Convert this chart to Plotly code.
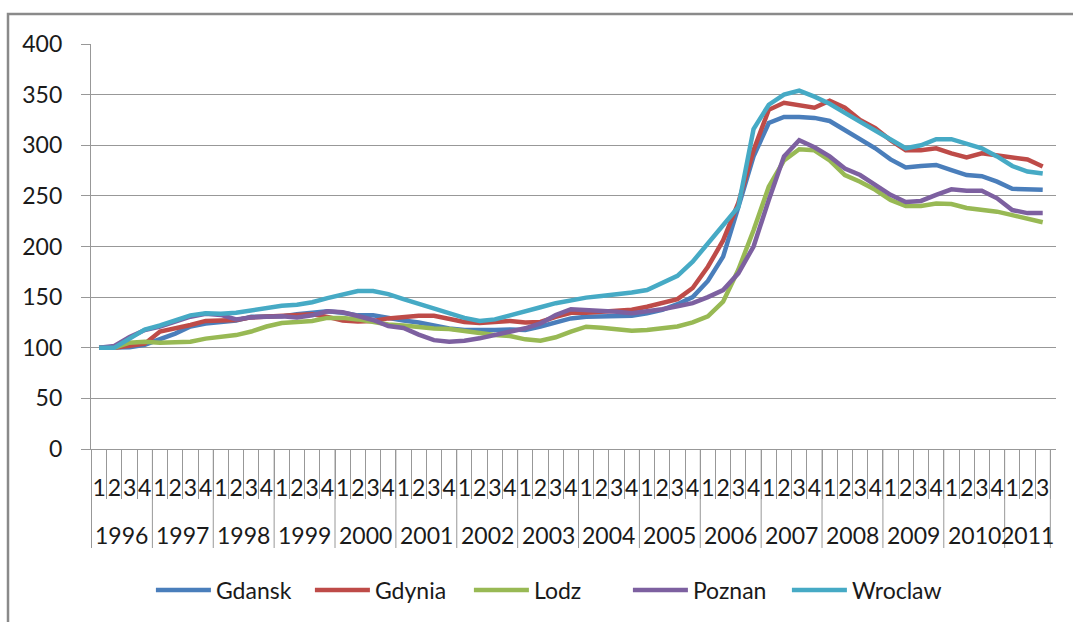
import plotly.graph_objects as go

# Quarterly house-price index (1996 Q1 = 100), 1996 Q1 .. 2011 Q3
years = [str(y) for y in range(1996, 2012)]
quarters = ["1", "2", "3", "4"]
n_points = 63

gdansk = [100, 100, 100.5, 103, 108, 114, 121, 124, 125.5, 127, 130.5, 131, 131, 133, 134, 136,
          134.5, 132, 132, 129, 127, 125, 121.5, 119, 117.5, 117, 117.5, 118, 117.5, 121, 125.5, 129,
          130.5, 131, 131.5, 131.5, 134, 137.5, 143, 150, 166, 190, 239, 289, 322, 328, 328, 327,
          324, 315, 307, 297, 286, 278, 279.5, 280.5, 275.5, 270.5, 269.5, 264, 257, 256, 256]
gdynia = [100, 100, 102, 104, 116, 119, 122.5, 126.5, 126.5, 127.5, 130, 131, 132, 132.5, 133, 130.5,
          127, 126, 126.5, 129, 130.5, 131.5, 131.5, 128, 125.5, 124.5, 125.5, 126.5, 125, 125.5, 130.5, 134.5,
          134.5, 135.5, 135.5, 137.5, 140.5, 144, 148, 159, 180, 206, 243, 295, 335, 342, 340, 337,
          344, 337, 325, 317, 305, 295, 295, 297, 292, 288, 292, 290, 289, 286, 279]
lodz = [100, 100, 105, 106, 105, 105, 106, 109, 111, 112.5, 116, 121, 124.5, 125.5, 126.5, 129.5,
        129.5, 128, 125, 123, 122, 120, 119, 118.5, 116.5, 114, 112.6, 111.6, 108.3, 107, 110.3, 116,
        120.8, 119.8, 118.2, 116.8, 117.5, 119.2, 121, 125, 131, 145.5, 177, 216, 259, 285, 296, 295,
        285, 270.6, 264, 256, 246, 240, 240, 242.5, 242, 238, 236.7, 234.4, 231, 228, 224]
poznan = [100, 101.7, 110.6, 117.5, 121, 125.7, 130.7, 133.5, 132.4, 128, 130, 130.7, 131, 130, 132, 136,
          135, 131.4, 127.4, 121.5, 119.5, 113, 107.5, 106, 107, 109.3, 112.6, 115.9, 119.2, 124, 132.3, 138,
          137.3, 135.6, 135.6, 134, 135.6, 138, 141, 144, 150, 157, 173.5, 200, 246, 289, 305, 298,
          289, 277, 270.6, 261, 251, 244, 245, 251, 256.5, 255, 255, 247.6, 236, 233, 233]
wroclaw = [100, 100, 109, 118, 122, 127, 132, 134, 133.5, 134.5, 137, 140, 141.5, 142.5, 145, 149,
           153, 156, 156, 153, 148, 143.5, 139, 134.5, 129.5, 126.5, 128, 132, 136.5, 140, 144, 147,
           149.5, 151, 152.5, 154.5, 157, 163.5, 171, 185, 203, 221, 239, 316, 340, 350, 354, 348,
           341, 332, 323, 315, 305, 297, 300, 306, 306, 302, 297, 289, 279.5, 274, 272]

series = {
    "Gdansk": (gdansk, "#4A7EBB"),
    "Gdynia": (gdynia, "#BE4B48"),
    "Lodz": (lodz, "#98B954"),
    "Poznan": (poznan, "#7D60A0"),
    "Wroclaw": (wroclaw, "#46AAC5"),
}

# one category per quarter; tick text shows the quarter number
periods = []
period_quarter = []
year_slots = []  # (year label, first index, number of quarters)
for y in years:
    start = len(periods)
    for q in quarters:
        if len(periods) < n_points:
            periods.append(f"{y}-{q}")
            period_quarter.append(q)
    year_slots.append((y, start, len(periods) - start))

FONT = "Lato"
FS = 23
TEXT = "#1a1a1a"
GRID = "#989898"
PLOT_H = 622 - 44 - 173

fig = go.Figure()
for name, (vals, color) in series.items():
    fig.add_trace(go.Scatter(
        x=periods, y=vals, name=name, mode="lines",
        line=dict(color=color, width=4.5),
    ))

# year row under the quarter row: group labels and group dividers
shapes = []
annotations = []
for label, start, count in year_slots:
    shapes.append(dict(type="line", xref="x", yref="paper",
                       x0=start - 0.5, x1=start - 0.5, y0=0, y1=-99 / PLOT_H,
                       line=dict(color=GRID, width=1)))
    annotations.append(dict(xref="x", yref="paper", x=start + (count - 1) / 2,
                            y=-86 / PLOT_H, text=label, showarrow=False,
                            xanchor="center", yanchor="middle",
                            font=dict(family=FONT, size=FS, color=TEXT)))
last_label, last_start, last_count = year_slots[-1]
shapes.append(dict(type="line", xref="x", yref="paper",
                   x0=last_start + last_count - 0.5, x1=last_start + last_count - 0.5,
                   y0=0, y1=-99 / PLOT_H, line=dict(color=GRID, width=1)))

# chart frame
shapes.append(dict(type="rect", xref="paper", yref="paper",
                   x0=-0.086, x1=1.03, y0=-0.45, y1=1.074,
                   line=dict(color="#8a8a8a", width=2.5), layer="below"))

fig.update_layout(
    width=1073, height=622,
    margin=dict(l=91, r=17, t=44, b=173, autoexpand=False),
    paper_bgcolor="white", plot_bgcolor="white",
    font=dict(family=FONT, size=FS, color=TEXT),
    showlegend=True,
    legend=dict(orientation="h", x=0.474, xanchor="center",
                yref="container", y=1 - 590 / 622, yanchor="middle",
                itemwidth=55, entrywidth=89,
                font=dict(family=FONT, size=FS, color=TEXT), traceorder="normal"),
    xaxis=dict(
        type="category", categoryorder="array", categoryarray=periods,
        tickmode="array", tickvals=periods, ticktext=period_quarter, tickangle=0,
        showgrid=False, showline=True, linecolor=GRID, linewidth=1.3,
        ticks="outside", tickson="boundaries", ticklen=49, tickcolor=GRID, tickwidth=1,
        ticklabelstandoff=18, automargin=False,
        tickfont=dict(family=FONT, size=FS, color=TEXT),
    ),
    yaxis=dict(
        range=[0, 400], dtick=50, tick0=0,
        showgrid=True, gridcolor=GRID, gridwidth=1.3,
        showline=True, linecolor=GRID, linewidth=1.3,
        ticks="outside", ticklen=9, tickcolor=GRID, tickwidth=1.3,
        zeroline=False, ticklabelstandoff=14, automargin=False,
        tickfont=dict(family=FONT, size=FS, color=TEXT),
    ),
    shapes=shapes,
    annotations=annotations,
)

fig.write_html("out.html")
